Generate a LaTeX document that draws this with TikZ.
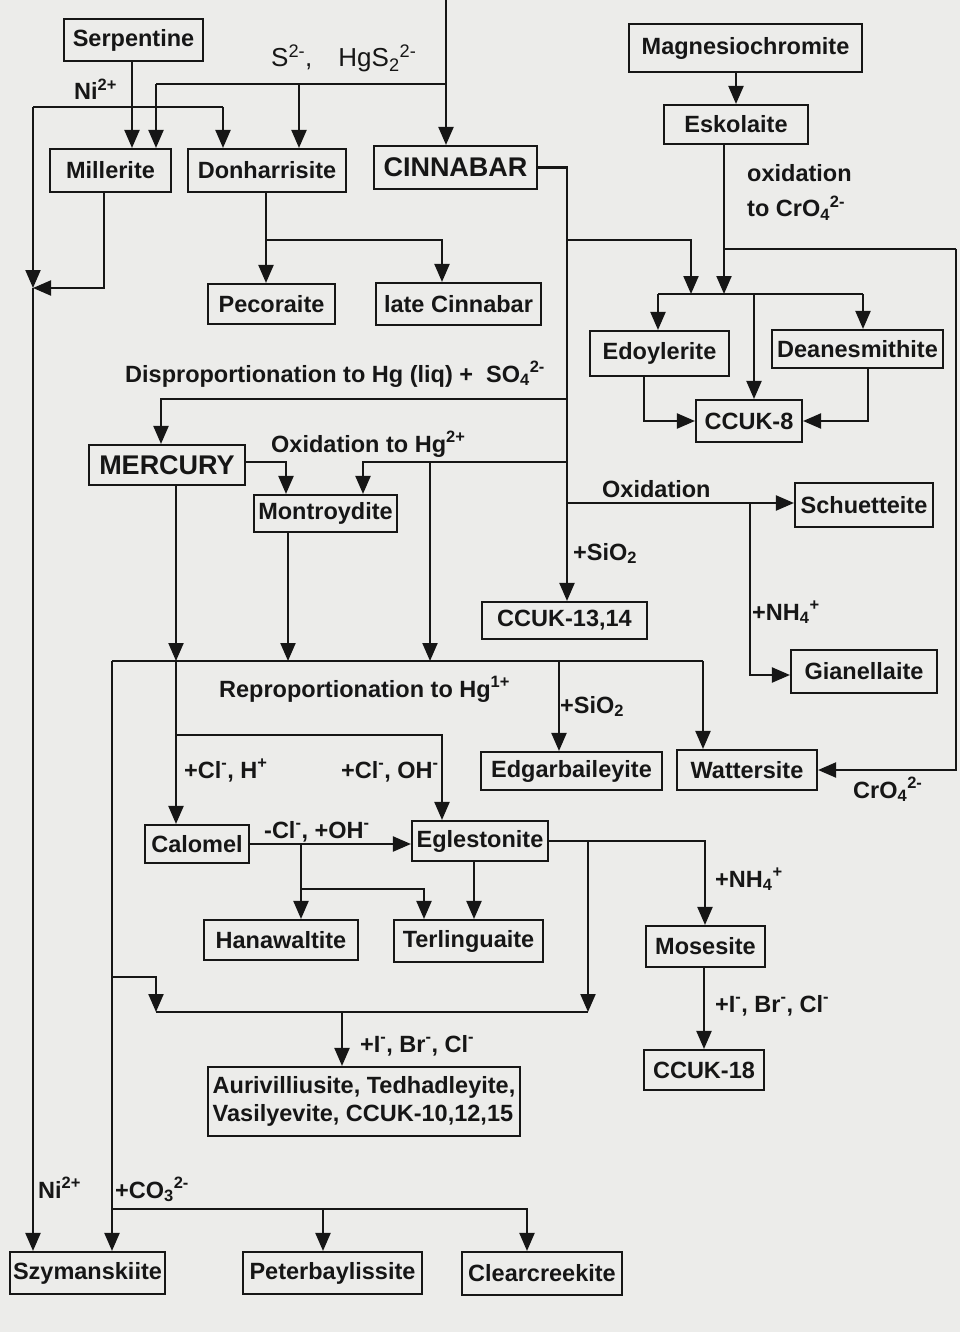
\documentclass[tikz,border=0pt]{standalone}
\usepackage{fontspec}
\setmainfont{Liberation Sans}
\usetikzlibrary{arrows.meta}
\definecolor{bg}{RGB}{236,236,234}
\definecolor{ink}{RGB}{22,22,22}
\newcommand{\mysup}[1]{\textsuperscript{#1}}
\newcommand{\mysub}[1]{\textsubscript{#1}}
\tikzset{
  mbox/.style={draw=ink, line width=2.1pt, inner sep=0pt, text=ink,
    font=\fontsize{23.5}{28}\selectfont\bfseries},
  bigbox/.style={mbox, font=\fontsize{27}{30}\selectfont\bfseries},
  lab/.style={anchor=base west, inner sep=0pt, text=ink,
    font=\fontsize{23.5}{27}\selectfont\bfseries},
  labn/.style={lab, font=\fontsize{26}{28}\selectfont},
  conn/.style={draw=ink, line width=2.1pt},
  arr/.style={conn, -{Triangle[length=18pt,width=15pt]}},
}
\begin{document}
\begin{tikzpicture}[x=1pt,y=-1pt]
\path[use as bounding box, fill=bg] (0,0) rectangle (960,1332);

% ---------- boxes ----------
\node[mbox, minimum width=139pt, minimum height=42pt] (serp) at (133.5,40) {Serpentine};
\node[mbox, minimum width=121pt, minimum height=43pt] (mill) at (110.5,170.5) {Millerite};
\node[mbox, minimum width=158pt, minimum height=43pt] (donh) at (267,170.5) {Donharrisite};
\node[bigbox, minimum width=163pt, minimum height=43pt] (cinn) at (455.5,167.5) {CINNABAR};
\node[mbox, minimum width=127pt, minimum height=40pt] (peco) at (271.5,304) {Pecoraite};
\node[mbox, minimum width=165pt, minimum height=42pt] (latec) at (458.5,304) {late Cinnabar};
\node[mbox, minimum width=233pt, minimum height=48pt] (magn) at (745.5,48) {Magnesiochromite};
\node[mbox, minimum width=144pt, minimum height=39pt] (esko) at (736,124.5) {Eskolaite};
\node[mbox, minimum width=139pt, minimum height=45pt] (edoy) at (659.5,353.5) {Edoylerite};
\node[mbox, minimum width=171pt, minimum height=38pt] (dean) at (857.5,349) {Deanesmithite};
\node[mbox, minimum width=106pt, minimum height=42pt] (ccuk8) at (749,421) {CCUK-8};
\node[bigbox, minimum width=156pt, minimum height=40pt] (merc) at (167,465) {MERCURY};
\node[mbox, minimum width=143pt, minimum height=37pt] (mont) at (325.5,513.5) {Montroydite};
\node[mbox, minimum width=138pt, minimum height=44pt] (schu) at (864,505) {Schuetteite};
\node[mbox, minimum width=165pt, minimum height=37pt] (cc1314) at (564.5,620.5) {CCUK-13,14};
\node[mbox, minimum width=146pt, minimum height=43pt] (gian) at (864,671.5) {Gianellaite};
\node[mbox, minimum width=181pt, minimum height=38pt] (edga) at (571.5,771) {Edgarbaileyite};
\node[mbox, minimum width=140pt, minimum height=40pt] (watt) at (747,770) {Wattersite};
\node[mbox, minimum width=104pt, minimum height=38pt] (calo) at (197,844) {Calomel};
\node[mbox, minimum width=136pt, minimum height=40pt] (egle) at (480,841) {Eglestonite};
\node[mbox, minimum width=154pt, minimum height=40pt] (hana) at (281,940) {Hanawaltite};
\node[mbox, minimum width=149pt, minimum height=42pt] (terl) at (468.5,941) {Terlinguaite};
\node[mbox, minimum width=119pt, minimum height=41pt] (mose) at (705.5,946.5) {Mosesite};
\node[mbox, minimum width=120pt, minimum height=40pt] (cc18) at (704,1070) {CCUK-18};
\node[mbox, minimum width=312pt, minimum height=69pt, align=left] (auri) at (364,1101.5)
  {Aurivilliusite, Tedhadleyite,\\Vasilyevite, CCUK-10,12,15};
\node[mbox, minimum width=155pt, minimum height=42pt] (szym) at (87.5,1273) {Szymanskiite};
\node[mbox, minimum width=179pt, minimum height=42pt] (pete) at (332.5,1273) {Peterbaylissite};
\node[mbox, minimum width=160pt, minimum height=43pt] (clea) at (542,1273.5) {Clearcreekite};

% ---------- labels ----------
\node[labn] (l1) at (271,67) {S\mysup{2-},\quad HgS\mysub{2}\mysup{2-}};
\node[lab] (l2) at (74,100) {Ni\mysup{2+}};
\node[lab] (l3) at (747,182) {oxidation};
\node[lab] (l4) at (747,217) {to CrO\mysub{4}\mysup{2-}};
\node[lab] (l5) at (125,382) {Disproportionation to Hg (liq) + \ SO\mysub{4}\mysup{2-}};
\node[lab] (l6) at (271,452) {Oxidation to Hg\mysup{2+}};
\node[lab] (l7) at (602,497) {Oxidation};
\node[lab] (l8) at (573,560) {+SiO\mysub{2}};
\node[lab] (l9) at (752,620) {+NH\mysub{4}\mysup{+}};
\node[lab] (l10) at (219,697) {Reproportionation to Hg\mysup{1+}};
\node[lab] (l11) at (560,713) {+SiO\mysub{2}};
\node[lab] (l12) at (853,798) {CrO\mysub{4}\mysup{2-}};
\node[lab] (l13) at (184,778) {+Cl\mysup{-}, H\mysup{+}};
\node[lab] (l14) at (341,778) {+Cl\mysup{-}, OH\mysup{-}};
\node[lab] (l15) at (264,838) {-Cl\mysup{-}, +OH\mysup{-}};
\node[lab] (l16) at (715,887) {+NH\mysub{4}\mysup{+}};
\node[lab] (l17) at (715,1012) {+I\mysup{-}, Br\mysup{-}, Cl\mysup{-}};
\node[lab] (l18) at (360,1052) {+I\mysup{-}, Br\mysup{-}, Cl\mysup{-}};
\node[lab] (l19) at (38,1198) {Ni\mysup{2+}};
\node[lab] (l20) at (115,1198) {+CO\mysub{3}\mysup{2-}};

% ---------- connectors: top ----------
\coordinate (sT) at (446,0);
\coordinate (sB) at (446,84);
\coordinate (sL) at (156,84);
\coordinate (sM) at (299,84);
\draw[arr] (sT) -- (sT |- cinn.north);
\draw[conn] (sB) -- (sL);
\draw[arr] (sL) -- (sL |- mill.north);
\draw[arr] (sM) -- (sM |- donh.north);
\draw[arr] ([xshift=-1.5pt]serp.south) -- ([xshift=-1.5pt]serp.south |- mill.north);

\coordinate (niL) at (33,107);
\coordinate (niR) at (223,107);
\coordinate (lj) at (33,288);
\draw[conn] (niL) -- (niR);
\draw[arr] (niR) -- (niR |- donh.north);
\draw[arr] (niL) -- (lj);
\draw[arr] (lj) -- (lj |- szym.north);
\coordinate (mb) at (104,288);
\draw[arr] (mill.south -| mb) -- (mb) -- (lj);

\coordinate (dj) at (266,240);
\coordinate (dr) at (442,240);
\draw[arr] (donh.south -| dj) -- (dj |- peco.north);
\draw[arr] (dj) -- (dr) -- (dr |- latec.north);

% cinnabar trunk
\coordinate (cA) at (567,168);
\draw[arr] (cinn.east) -- (cinn.east -| cA) -- (cA |- cc1314.north);
\coordinate (c1) at (567,240);
\coordinate (e1) at (691,240);
\coordinate (bL) at (658,294);
\coordinate (bR) at (863,294);
\coordinate (bM) at (754,294);
\draw[arr] (c1) -- (e1) -- (e1 |- bL);

% chromium branch
\draw[arr] (esko.north |- magn.south) -- (esko.north);
\coordinate (k1) at (724,249);
\coordinate (k2) at (956,249);
\draw[arr] (esko.south -| k1) -- (k1 |- bL);
\draw[conn] (k1) -- (k2);
\draw[arr] (k2) -- (k2 |- watt.east) -- (watt.east);
\draw[conn] (bL) -- (bR);
\draw[arr] (bL) -- (bL |- edoy.north);
\draw[arr] (bR) -- (bR |- dean.north);
\draw[arr] (bM) -- (bM |- ccuk8.north);
\coordinate (ed) at (644,421);
\draw[arr] (edoy.south -| ed) -- (ed |- ccuk8.west) -- (ccuk8.west);
\coordinate (de) at (868,421);
\draw[arr] (dean.south -| de) -- (de |- ccuk8.east) -- (ccuk8.east);

% disproportionation / oxidation
\coordinate (c2) at (567,399);
\coordinate (d2) at (161,399);
\draw[arr] (c2) -- (d2) -- (d2 |- merc.north);
\coordinate (c3) at (567,462);
\coordinate (o3) at (363,462);
\coordinate (o4) at (430,462);
\coordinate (rL) at (112,661);
\coordinate (rR) at (703,661);
\draw[arr] (c3) -- (o3) -- (o3 |- mont.north);
\draw[arr] (o4) -- (o4 |- rL);
\coordinate (m1) at (286,462);
\draw[arr] (merc.east |- m1) -- (m1) -- (m1 |- mont.north);
\coordinate (m2) at (176,661);
\draw[arr] (merc.south -| m2) -- (m2);
\coordinate (m3) at (288,661);
\draw[arr] (mont.south -| m3) -- (m3);

\coordinate (c4) at (567,503);
\draw[arr] (c4) -- (c4 -| schu.west);
\coordinate (n1) at (750,503);
\coordinate (n2) at (750,675);
\draw[arr] (n1) -- (n2) -- (n2 -| gian.west);

% reproportionation
\draw[conn] (rL) -- (rR);
\draw[arr] (rR) -- (rR |- watt.north);
\coordinate (r2) at (559,661);
\draw[arr] (r2) -- (r2 |- edga.north);
\draw[arr] (m2) -- (m2 |- calo.north);
\coordinate (r3) at (176,735);
\coordinate (r4) at (442,735);
\draw[arr] (r3) -- (r4) -- (r4 |- egle.north);

% calomel / eglestonite
\draw[arr] (calo.east) -- (calo.east -| egle.west);
\coordinate (h1) at (301,844);
\coordinate (h2) at (301,889);
\coordinate (h3) at (424,889);
\draw[arr] (h1) -- (h1 |- hana.north);
\draw[arr] (h2) -- (h3) -- (h3 |- terl.north);
\draw[arr] ([xshift=-6pt]egle.south) -- ([xshift=-6pt]egle.south |- terl.north);
\coordinate (g1) at (705,841);
\coordinate (g2) at (588,841);
\coordinate (aR) at (588,1012);
\coordinate (aL) at (156,1012);
\coordinate (a1) at (342,1012);
\draw[arr] (egle.east) -- (egle.east -| g1) -- (g1 |- mose.north);
\draw[arr] (g2) -- (aR);
\draw[conn] (aL) -- (aR);
\draw[arr] (a1) -- (a1 |- auri.north);
\draw[arr] ([xshift=-1.5pt]mose.south) -- ([xshift=-1.5pt]mose.south |- cc18.north);

% left trunk and bottom
\draw[arr] (rL) -- (rL |- szym.north);
\coordinate (v2) at (112,977);
\coordinate (v3) at (156,977);
\draw[arr] (v2) -- (v3) -- (aL);
\coordinate (b1) at (112,1209);
\coordinate (b2) at (527,1209);
\coordinate (b3) at (323,1209);
\draw[arr] (b1) -- (b2) -- (b2 |- clea.north);
\draw[arr] (b3) -- (b3 |- pete.north);
\end{tikzpicture}
\end{document}
